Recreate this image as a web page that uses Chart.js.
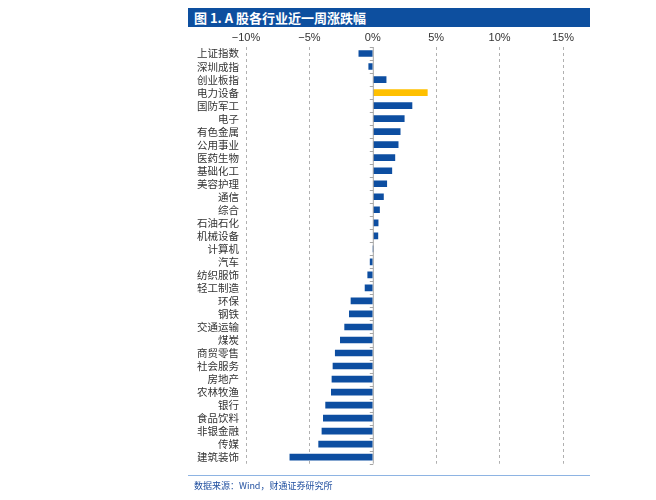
<!DOCTYPE html>
<html>
<head>
<meta charset="utf-8">
<script src="https://cdn.jsdelivr.net/npm/chart.js@4/dist/chart.umd.min.js"></script>
<style>
  body { margin: 0; background: #fff; font-family: "Noto Sans CJK SC", sans-serif; }
  #titulo { position: absolute; left: 188px; top: 8px; width: 402px; height: 19px; background: #0d4f9f;
            color: #fff; font-size: 13px; line-height: 19px; padding-left: 6px; box-sizing: border-box; font-weight: bold; }
  #caja { position: absolute; left: 188px; top: 29px; width: 402px; height: 448px; }
  #linea { position: absolute; left: 188px; top: 475px; width: 402px; height: 1px; background: #8eb4e3; }
  #fuente { position: absolute; left: 194px; top: 479px; font-size: 9px; color: #1f4e9f; }
</style>
</head>
<body>
<div id="titulo">图 1. A 股各行业近一周涨跌幅</div>
<div id="caja"><canvas id="grafico"></canvas></div>
<div id="linea"></div>
<div id="fuente">数据来源：Wind，财通证券研究所</div>
<script>
const categorias = ['上证指数','深圳成指','创业板指','电力设备','国防军工','电子','有色金属','公用事业','医药生物','基础化工',
  '美容护理','通信','综合','石油石化','机械设备','计算机','汽车','纺织服饰','轻工制造','环保',
  '钢铁','交通运输','煤炭','商贸零售','社会服务','房地产','农林牧渔','银行','食品饮料','非银金融','传媒','建筑装饰'];
const valores = [-1.1, -0.32, 1.05, 4.3, 3.09, 2.48, 2.16, 2.0, 1.74, 1.5,
  1.1, 0.84, 0.53, 0.42, 0.4, 0.02, -0.21, -0.4, -0.61, -1.72,
  -1.85, -2.22, -2.56, -2.96, -3.14, -3.22, -3.27, -3.72, -3.9, -4.01, -4.27, -6.54];
const destacado = '电力设备';
const ticksX = [-10, -5, 0, 5, 10, 15];

const colores = categorias.map(c => c === destacado ? '#ffc000' : '#0d4ea1');

// linea del cero con marcas pequeñas
const lineaCero = {
  id: 'lineaCero',
  afterDatasetsDraw(chart) {
    const ctx = chart.ctx;
    const x0 = chart.scales.x.getPixelForValue(0);
    const y = chart.scales.y;
    ctx.save();
    ctx.strokeStyle = '#a6a6a6';
    ctx.lineWidth = 1;
    ctx.beginPath();
    ctx.moveTo(x0 + 0.5, chart.chartArea.top);
    ctx.lineTo(x0 + 0.5, chart.chartArea.bottom);
    for (let i = 0; i <= categorias.length; i++) {
      const py = Math.round(y.getPixelForValue(i - 0.5)) + 0.5;
      ctx.moveTo(x0 - 3, py);
      ctx.lineTo(x0 + 0.5, py);
    }
    ctx.stroke();
    ctx.restore();
  }
};

new Chart(document.getElementById('grafico'), {
  type: 'bar',
  data: {
    labels: categorias,
    datasets: [{ data: valores, backgroundColor: colores, barThickness: 6 }]
  },
  options: {
    indexAxis: 'y',
    responsive: true,
    maintainAspectRatio: false,
    animation: false,
    layout: { padding: { right: 27, bottom: 3, top: 0 } },
    plugins: { legend: { display: false }, tooltip: { enabled: false } },
    scales: {
      x: {
        position: 'top',
        min: -10, max: 15,
        afterBuildTicks: s => { s.ticks = ticksX.map(v => ({ value: v })); },
        afterFit: s => { s.height = 18; },
        ticks: {
          padding: 2,
          color: '#333',
          font: { family: 'Liberation Sans, Arial', size: 11 },
          callback: v => (v < 0 ? '\u2212' + Math.abs(v) : v) + '%'
        },
        grid: { color: ctx => ctx.tick && ctx.tick.value === 0 ? 'rgba(0,0,0,0)' : '#b0b0b0', drawTicks: false },
        border: { display: false, dash: [3, 3] }
      },
      y: {
        afterFit: s => { s.width = 58; },
        ticks: { autoSkip: false, color: '#333', padding: 7, font: { family: 'Noto Sans CJK SC', size: 10.5 } },
        grid: { display: false, drawTicks: false },
        border: { display: false }
      }
    }
  },
  plugins: [lineaCero]
});
</script>
</body>
</html>
